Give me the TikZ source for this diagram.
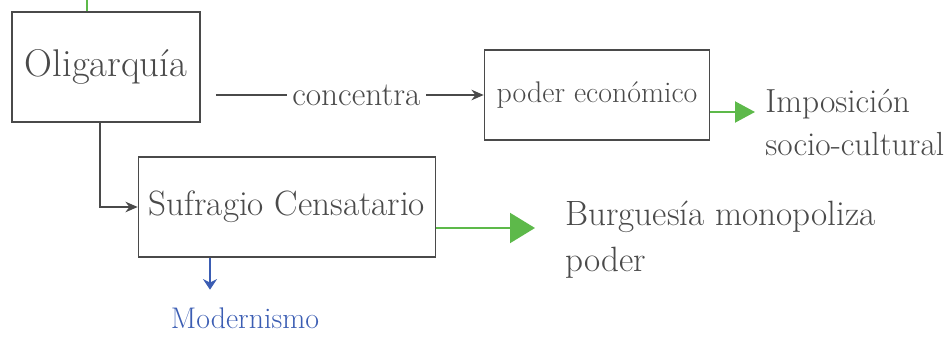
\documentclass[tikz,border=0pt]{standalone}
\usepackage{xcolor}
\usepackage{tikz}
\usetikzlibrary{arrows.meta,calc}
\definecolor{pencil}{HTML}{4A4A4A}
\definecolor{marker}{HTML}{5DB94A}
\definecolor{ink}{HTML}{3B5DB3}

\begin{document}
\begin{tikzpicture}[
    every node/.style={font=\fontsize{17}{25}\selectfont, text=pencil},
    concept/.style={draw=pencil, line width=0.9pt, inner sep=0pt},
    big/.style={font=\fontsize{20}{26}\selectfont},
    wire/.style={draw=pencil, line width=0.8pt, -{Stealth[length=7pt, width=6pt]}},
    gwire/.style={draw=marker, line width=1.2pt},
    lbl/.style={align=left, inner sep=0pt},
]
\useasboundingbox (0,0) rectangle (18.98,-6.84);

% Boxes
\node[concept, font=\fontsize{22}{26}\selectfont, minimum width=3.76cm, minimum height=2.2cm] (olig) at (2.12,-1.34) {Oligarquía};
\node[concept, minimum width=4.5cm, minimum height=1.8cm] (poder) at (11.94,-1.9) {poder económico};
\node[concept, big, minimum width=5.94cm, minimum height=2.0cm] (sufr) at (5.74,-4.14) {Sufragio Censatario};

% Free texts
\node[lbl, font=\fontsize{19}{25}\selectfont, anchor=west] (imp) at (15.3,-2.45) {Imposición\\socio-cultural};
\node[lbl, big, anchor=west] (burg) at (11.3,-4.8) {Burguesía monopoliza\\poder};
\node[lbl, text=ink] (mod) at (4.9,-6.36) {Modernismo};

% === Oligarquía ===
\coordinate (top) at ($(olig.north)+(-0.38,0.24)$);
\draw[gwire] (top) -- ([xshift=-0.38cm]olig.north);
\draw[wire, shorten <=0.3cm] (olig.east |- poder.west) -- node[pos=0.55, fill=white, inner sep=3pt, font=\fontsize{19}{25}\selectfont] {concentra} (poder.west);
\draw[wire] ([xshift=-0.12cm]olig.south) |- (sufr.west);

% === Green arrows ===
\draw[gwire, -{Triangle[length=0.4cm, width=0.42cm]}, shorten >=0.2cm]
    ([yshift=-0.34cm]poder.east) -- ([yshift=-0.34cm]poder.east -| imp.west);
\draw[gwire, -{Triangle[length=0.5cm, width=0.6cm]}, shorten >=0.6cm]
    ([yshift=-0.42cm]sufr.east) -- ([yshift=-0.42cm]sufr.east -| burg.west);

% === Modernismo ===
\draw[draw=ink, line width=0.9pt, -{Stealth[length=6pt, width=8pt]}, shorten >=0.35cm]
    ([xshift=-1.54cm]sufr.south) -- ([xshift=-1.54cm]sufr.south |- mod.north);

\end{tikzpicture}
\end{document}
